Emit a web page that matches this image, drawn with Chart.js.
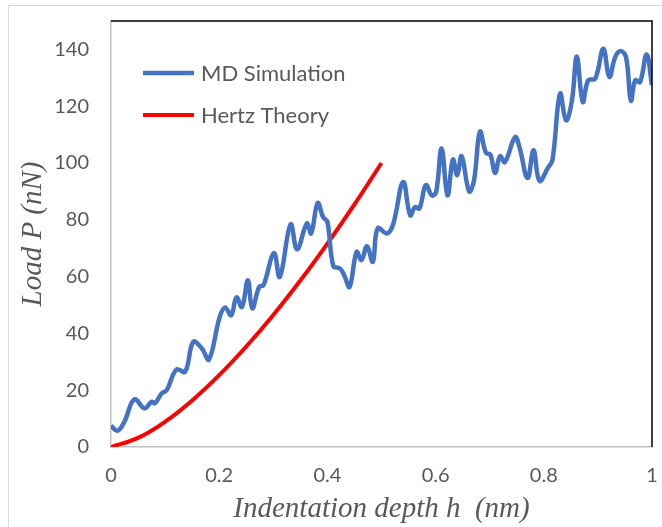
<!DOCTYPE html>
<html>
<head>
<meta charset="utf-8">
<script src="https://cdn.jsdelivr.net/npm/chart.js@4.4.1/dist/chart.umd.min.js"></script>
<style>
  html, body { margin: 0; padding: 0; background: #fff; }
  #wrap { width: 662px; height: 527px; }
</style>
</head>
<body>
<div id="wrap"><canvas id="c" width="662" height="527"></canvas></div>
<script>
// MD simulation curve
const mdDepth = [
  0.000, 0.012, 0.025, 0.043, 0.062, 0.075, 0.081, 0.094, 0.103, 0.121,
  0.137, 0.152, 0.168, 0.181, 0.201, 0.211, 0.222, 0.232, 0.242, 0.253,
  0.261, 0.274, 0.282, 0.301, 0.312, 0.332, 0.344, 0.362, 0.370, 0.382,
  0.392, 0.400, 0.411, 0.423, 0.431, 0.441, 0.454, 0.463, 0.473, 0.484,
  0.493, 0.511, 0.522, 0.540, 0.553, 0.562, 0.570, 0.582, 0.593, 0.601,
  0.611, 0.622, 0.632, 0.640, 0.648, 0.662, 0.671, 0.682, 0.693, 0.701,
  0.710, 0.719, 0.728, 0.747, 0.755, 0.770, 0.781, 0.792, 0.808, 0.816,
  0.830, 0.841, 0.852, 0.861, 0.872, 0.882, 0.895, 0.910, 0.921, 0.932,
  0.942, 0.952, 0.961, 0.969, 0.978, 0.990, 1.000
];
const mdLoad = [
  7.5, 5.7, 9.0, 16.8, 13.6, 15.9, 15.4, 18.9, 20.0, 27.3,
  26.5, 37.0, 34.7, 30.8, 45.8, 49.1, 46.4, 52.7, 49.3, 58.7,
  48.8, 56.4, 57.0, 68.3, 59.9, 78.4, 69.6, 78.7, 75.2, 85.9,
  81.0, 79.2, 63.7, 62.9, 60.5, 56.4, 68.7, 65.8, 70.7, 65.2,
  77.0, 75.2, 78.7, 93.3, 81.6, 84.5, 84.0, 92.2, 88.6, 89.8,
  105.1, 88.6, 101.2, 95.7, 102.4, 90.0, 93.9, 111.0, 103.6, 103.0,
  96.5, 102.4, 100.3, 109.1, 105.6, 94.7, 104.5, 93.7, 98.4, 101.0,
  124.4, 115.0, 122.0, 137.5, 121.5, 129.1, 129.7, 140.2, 130.3, 137.3,
  139.4, 137.3, 122.0, 129.1, 128.5, 138.2, 127.5
];

// Hertz theory curve
const hertzDepth = [0, 0.05, 0.1, 0.15, 0.2, 0.25, 0.3, 0.35, 0.4, 0.45, 0.5];
const hertzLoad = [0, 3.2, 8.9, 16.4, 25.3, 35.4, 46.5, 58.6, 71.6, 85.4, 100];

const xTicks = [0, 0.2, 0.4, 0.6, 0.8, 1];
const yTicks = [0, 20, 40, 60, 80, 100, 120, 140];

const seriesNames = ['MD Simulation', 'Hertz Theory'];

const textcolor = '#595959';
const bluecolor = '#4472C4';
const redcolor = '#FF0000';

const toPoints = (xs, ys) => xs.map((x, i) => ({ x: x, y: ys[i] }));

// frame + legend drawn inside the plot area
const framePlugin = {
  id: 'frame',
  beforeDraw: (chart) => {
    const ctx = chart.ctx;
    ctx.save();
    ctx.strokeStyle = '#D9D9D9';
    ctx.lineWidth = 1;
    ctx.strokeRect(8.5, 5.5, 700, 600);
    ctx.restore();
  },
  afterDraw: (chart) => {
    const ctx = chart.ctx;
    const area = chart.chartArea;
    ctx.save();
    ctx.strokeStyle = '#000';
    ctx.lineWidth = 1.5;
    ctx.beginPath();
    ctx.moveTo(area.left, area.top);
    ctx.lineTo(area.right, area.top);
    ctx.lineTo(area.right, area.bottom);
    ctx.stroke();

    // legend
    ctx.font = '22px Lato';
    ctx.textBaseline = 'middle';
    ctx.textAlign = 'left';
    const ys = [73, 115];
    chart.data.datasets.forEach((ds, i) => {
      ctx.strokeStyle = ds.borderColor;
      ctx.lineWidth = ds.borderWidth;
      ctx.beginPath();
      ctx.moveTo(143, ys[i]);
      ctx.lineTo(194, ys[i]);
      ctx.stroke();
      ctx.fillStyle = textcolor;
      ctx.fillText(ds.label, 201, ys[i] + 1);
    });
    ctx.restore();
  }
};

new Chart(document.getElementById('c').getContext('2d'), {
  type: 'scatter',
  data: {
    datasets: [
      {
        label: seriesNames[0],
        data: toPoints(mdDepth, mdLoad),
        showLine: true,
        tension: 0.4,
        borderColor: bluecolor,
        backgroundColor: bluecolor,
        borderWidth: 4.5,
        pointRadius: 0,
      },
      {
        label: seriesNames[1],
        data: toPoints(hertzDepth, hertzLoad),
        showLine: true,
        tension: 0.4,
        borderColor: redcolor,
        backgroundColor: redcolor,
        borderWidth: 4,
        pointRadius: 0,
      },
    ],
  },
  options: {
    responsive: false,
    animation: false,
    layout: {
      padding: { top: 21, right: 10, bottom: 0, left: 0 },
    },
    scales: {
      x: {
        type: 'linear',
        min: 0,
        max: 1,
        afterBuildTicks: (axis) => { axis.ticks = xTicks.map(v => ({ value: v })); },
        afterFit: (axis) => {
          axis.height = 80;
          axis.paddingLeft = 0;
          axis.paddingRight = 0;
        },
        ticks: {
          font: { family: 'Lato', size: 20 },
          color: textcolor,
          padding: 17,
          maxRotation: 0,
          callback: (v) => String(v),
        },
        grid: { display: false, drawTicks: false },
        border: { display: true, color: '#BFBFBF', width: 1.5 },
        title: {
          display: true,
          text: 'Indentation depth h  (nm)',
          color: textcolor,
          font: { family: 'Liberation Serif', size: 29, style: 'italic' },
          padding: { top: 2, bottom: 0 },
        },
      },
      y: {
        type: 'linear',
        min: 0,
        max: 150,
        afterBuildTicks: (axis) => { axis.ticks = yTicks.map(v => ({ value: v })); },
        afterFit: (axis) => {
          axis.width = 111;
          axis.paddingTop = 0;
          axis.paddingBottom = 0;
        },
        ticks: {
          font: { family: 'Lato', size: 20 },
          color: textcolor,
          padding: 22,
        },
        grid: { display: false, drawTicks: false },
        border: { display: true, color: '#BFBFBF', width: 1.5 },
        title: {
          display: true,
          text: 'Load P (nN)',
          color: textcolor,
          font: { family: 'Liberation Serif', size: 29, style: 'italic' },
          padding: { top: 16, bottom: 0 },
        },
      },
    },
    plugins: {
      legend: { display: false },
      tooltip: { enabled: false },
    },
  },
  plugins: [framePlugin],
});
</script>
</body>
</html>
